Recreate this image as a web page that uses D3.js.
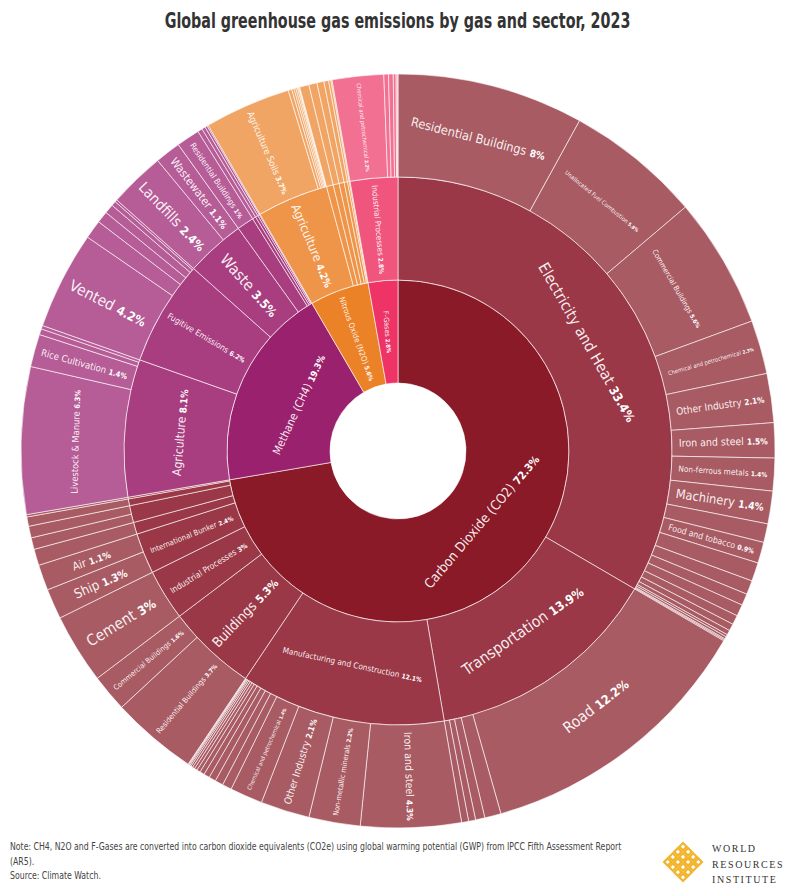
<!DOCTYPE html>
<html>
<head>
<meta charset="utf-8">
<script src="https://cdn.jsdelivr.net/npm/d3@7"></script>
<style>
	body { margin: 0; background: #fff; }
	svg text { font-family: "Liberation Sans Narrow", "DejaVu Sans Condensed", "Roboto", sans-serif; }
</style>
</head>
<body>
<svg id="chart" width="795" height="895"></svg>
<script>
// gases (inner ring), clockwise from 12 o'clock
const gases = ["Carbon Dioxide (CO2)", "Methane (CH4)", "Nitrous Oxide (N2O)", "F-Gases"];

// [sector, subsector, share of global emissions, %]
const co2Rows = [
	["Electricity and Heat", "Residential Buildings", 8],
	["Electricity and Heat", "Unallocated Fuel Combustion", 5.8],
	["Electricity and Heat", "Commercial Buildings", 5.6],
	["Electricity and Heat", "Chemical and petrochemical", 2.3],
	["Electricity and Heat", "Other Industry", 2.1],
	["Electricity and Heat", "Iron and steel", 1.5],
	["Electricity and Heat", "Non-ferrous metals", 1.4],
	["Electricity and Heat", "Machinery", 1.4],
	["Electricity and Heat", "Agriculture/Forestry", 0.8],
	["Electricity and Heat", "Food and tobacco", 0.9],
	["Electricity and Heat", "Non-metallic minerals", 0.8],
	["Electricity and Heat", "Paper, pulp and printing", 0.6],
	["Electricity and Heat", "Transport equipment", 0.5],
	["Electricity and Heat", "Mining and quarrying", 0.5],
	["Electricity and Heat", "Textile and leather", 0.4],
	["Electricity and Heat", "Construction", 0.3],
	["Electricity and Heat", "Wood and wood products", 0.2],
	["Electricity and Heat", "Fishing", 0.1],
	["Electricity and Heat", "Non-specified industry", 0.1],
	["Electricity and Heat", "Rail", 0.05],
	["Electricity and Heat", "Other Energy", 0.05],
	["Transportation", "Road", 12.2],
	["Transportation", "Domestic Aviation", 0.7],
	["Transportation", "Domestic Navigation", 0.4],
	["Transportation", "Rail", 0.3],
	["Transportation", "Pipeline transport", 0.3],
	["Manufacturing and Construction", "Iron and steel", 4.3],
	["Manufacturing and Construction", "Non-metallic minerals", 2.2],
	["Manufacturing and Construction", "Other Industry", 2.1],
	["Manufacturing and Construction", "Chemical and petrochemical", 1.4],
	["Manufacturing and Construction", "Non-ferrous metals", 0.4],
	["Manufacturing and Construction", "Machinery", 0.35],
	["Manufacturing and Construction", "Food and tobacco", 0.3],
	["Manufacturing and Construction", "Paper, pulp and printing", 0.25],
	["Manufacturing and Construction", "Construction", 0.2],
	["Manufacturing and Construction", "Mining and quarrying", 0.15],
	["Manufacturing and Construction", "Transport equipment", 0.12],
	["Manufacturing and Construction", "Textile and leather", 0.1],
	["Manufacturing and Construction", "Wood and wood products", 0.08],
	["Manufacturing and Construction", "Non-specified industry", 0.06],
	["Manufacturing and Construction", "Agriculture/Forestry", 0.04],
	["Manufacturing and Construction", "Fishing", 0.03],
	["Manufacturing and Construction", "Other Energy", 0.02],
	["Buildings", "Residential Buildings", 3.7],
	["Buildings", "Commercial Buildings", 1.6],
	["Industrial Processes", "Cement", 3],
	["International Bunker", "Ship", 1.3],
	["International Bunker", "Air", 1.1],
	["Other Fuel Combustion", "Other Fuel Combustion", 0.7],
	["Fugitive Emissions", "Flaring", 0.5],
	["Fugitive Emissions", "Vented", 0.5],
	["Land-Use Change and Forestry", "Land-Use Change and Forestry", 0.4],
	["Agriculture", "Agriculture", 0.1]
];

const ch4Rows = [
	["Agriculture", "Livestock & Manure", 6.3],
	["Agriculture", "Rice Cultivation", 1.4],
	["Agriculture", "Agricultural Waste Burning", 0.25],
	["Agriculture", "Other Agriculture", 0.15],
	["Fugitive Emissions", "Vented", 4.2],
	["Fugitive Emissions", "Coal Mining", 0.8],
	["Fugitive Emissions", "Leaks", 0.5],
	["Fugitive Emissions", "Flaring", 0.4],
	["Fugitive Emissions", "Other Fugitive", 0.2],
	["Fugitive Emissions", "Abandoned Mines", 0.1],
	["Waste", "Landfills", 2.4],
	["Waste", "Wastewater", 1.1],
	["Buildings", "Residential Buildings", 1],
	["Other Fuel Combustion", "Other Fuel Combustion", 0.2],
	["Industrial Processes", "Industrial Processes", 0.15],
	["Transportation", "Transportation", 0.1],
	["Land-Use Change and Forestry", "Land-Use Change and Forestry", 0.05]
];

const n2oRows = [
	["Agriculture", "Agriculture Soils", 3.7],
	["Agriculture", "Manure Management", 0.15],
	["Agriculture", "Manure Left on Pasture", 0.1],
	["Agriculture", "Crop Residues", 0.08],
	["Agriculture", "Burning", 0.07],
	["Agriculture", "Synthetic Fertilizers", 0.05],
	["Agriculture", "Drained Soils", 0.03],
	["Agriculture", "Other Agriculture", 0.02],
	["Industrial Processes", "Industrial Processes", 0.4],
	["Waste", "Waste", 0.35],
	["Other Fuel Combustion", "Other Fuel Combustion", 0.3],
	["Transportation", "Transportation", 0.2],
	["Buildings", "Buildings", 0.1],
	["Land-Use Change and Forestry", "Land-Use Change and Forestry", 0.05]
];

const fgasRows = [
	["Industrial Processes", "Chemical and petrochemical", 2.2],
	["Industrial Processes", "Refrigeration", 0.2],
	["Industrial Processes", "Electronics", 0.2],
	["Industrial Processes", "Aluminium", 0.12],
	["Industrial Processes", "Magnesium", 0.05],
	["Industrial Processes", "Other", 0.03]
];

const noteLines = [
	"Note: CH4, N2O and F-Gases are converted into carbon dioxide equivalents (CO2e) using global warming potential (GWP) from IPCC Fifth Assessment Report",
	"(AR5).",
	"Source: Climate Watch."
];

// цвета: по газу, от внутреннего кольца к внешнему
const palette = [
	["#8a1a28", "#9b3847", "#a95b63"],
	["#9a216d", "#a83e7f", "#b65c97"],
	["#ec8227", "#ef9549", "#f1a565"],
	["#ee3366", "#f0557d", "#f27091"]
];

const w = 795,
	h = 895,
	cx = 398,
	cy = 451;

// минимальная доля для подписи по глубине кольца
const minShare = [0, 0, 2, 0.9],
	maxFont = [0, 13.5, 15.5, 15.5],
	labelShift = [0, 10, 4, 3];

const svg = d3.select("#chart");

// строим иерархию газ -> сектор -> подсектор
const rowsByGas = [co2Rows, ch4Rows, n2oRows, fgasRows];

const tree = {
	name: "Total",
	children: gases.map((g, i) => ({
		name: g,
		gas: i,
		children: Array.from(d3.group(rowsByGas[i], r => r[0]), ([sector, rows]) => ({
			name: sector,
			children: rows.map(r => ({ name: r[1], value: r[2] }))
		}))
	}))
};

const root = d3.hierarchy(tree).sum(d => d.value || 0);

d3.partition().size([2 * Math.PI, 4])(root);

const radius = d3.scaleLinear().domain([1, 4]).range([68, 377]);

const arc = d3
	.arc()
	.startAngle(d => d.x0)
	.endAngle(d => d.x1)
	.innerRadius(d => radius(d.y0))
	.outerRadius(d => radius(d.y1));

const gasOf = d => d.ancestors().find(a => a.depth === 1).data.gas;

const g = svg.append("g").attr("transform", `translate(${cx},${cy})`);

// сегменты
g.selectAll("path")
	.data(root.descendants().filter(d => d.depth > 0))
	.enter()
	.append("path")
	.attr("d", arc)
	.attr("fill", d => palette[gasOf(d)][d.depth - 1])
	.attr("stroke", "#fff")
	.attr("stroke-opacity", 0.75)
	.attr("stroke-width", 0.8);

// подписи
const fmt = v => +v.toFixed(1) + "%";

root.descendants()
	.filter(d => d.depth > 0 && d.value >= minShare[d.depth])
	.forEach(d => {
		const deg = ((d.x0 + d.x1) / 2) * 180 / Math.PI,
			r0 = radius(d.y0),
			r1 = radius(d.y1),
			rm = (r0 + r1) / 2,
			span = d.x1 - d.x0,
			tangential = span * rm > r1 - r0;

		let L, H, transform;

		if (tangential) {
			const rl = rm - labelShift[d.depth];
			L = span * rl - 24;
			H = (r1 - r0) * 0.5;
			transform = `rotate(${deg}) translate(0,${-rl})` + (deg > 90 && deg < 270 ? " rotate(180)" : "");
		} else {
			L = r1 - r0 - 14;
			H = span * r0 * 0.6;
			transform = `rotate(${deg - 90}) translate(${rm},0)` + (deg > 180 ? " rotate(180)" : "");
		}

		const label = g
			.append("text")
			.attr("transform", transform)
			.attr("text-anchor", "middle")
			.attr("dy", "0.35em")
			.attr("fill", "#fff")
			.attr("font-size", 10);

		label.append("tspan").attr("fill-opacity", 0.92).text(d.data.name + " ");
		label.append("tspan").attr("font-weight", "bold").attr("font-size", "0.8em").text(fmt(d.value));

		const len = label.node().getComputedTextLength(),
			size = Math.min(maxFont[d.depth], (10 * L) / len, H);

		if (size < 4) {
			label.remove();
		} else {
			label.attr("font-size", size.toFixed(2));
		}
	});

// заголовок (сжимаем по ширине, как узкий шрифт оригинала)
const title = svg
	.append("text")
	.attr("text-anchor", "middle")
	.attr("font-weight", "bold")
	.attr("font-size", 21)
	.attr("fill", "#333")
	.text("Global greenhouse gas emissions by gas and sector, 2023");

const titleScale = 466 / title.node().getComputedTextLength();
title.attr("transform", `translate(${w / 2},28) scale(${titleScale.toFixed(3)},1)`);

// примечание
const notes = svg
	.selectAll(".note")
	.data(noteLines)
	.enter()
	.append("text")
	.attr("class", "note")
	.attr("font-size", 10.5)
	.attr("fill", "#444")
	.text(d => d);

const noteScale = 612 / notes.node().getComputedTextLength();
notes.attr("transform", (d, i) => `translate(10,${850 + i * 14.5}) scale(${noteScale.toFixed(3)},1)`);

// логотип WRI
const logo = svg.append("g").attr("transform", "translate(683,862) rotate(45)");
const cell = 7.2;

for (let i = 0; i < 4; i++) {
	for (let j = 0; j < 4; j++) {
		logo.append("rect")
			.attr("x", -2 * cell + i * cell + 1)
			.attr("y", -2 * cell + j * cell + 1)
			.attr("width", cell - 2)
			.attr("height", cell - 2)
			.attr("fill", "none")
			.attr("stroke", "#f2b42c")
			.attr("stroke-width", 2.2);
	}
}

svg.selectAll(".wri")
	.data(["WORLD", "RESOURCES", "INSTITUTE"])
	.enter()
	.append("text")
	.attr("class", "wri")
	.attr("x", 712)
	.attr("y", (d, i) => 852 + i * 15.5)
	.attr("font-size", 10)
	.attr("letter-spacing", 1.6)
	.attr("fill", "#333")
	.style("font-family", "'Liberation Serif', 'DejaVu Serif', serif")
	.text(d => d);
</script>
</body>
</html>
